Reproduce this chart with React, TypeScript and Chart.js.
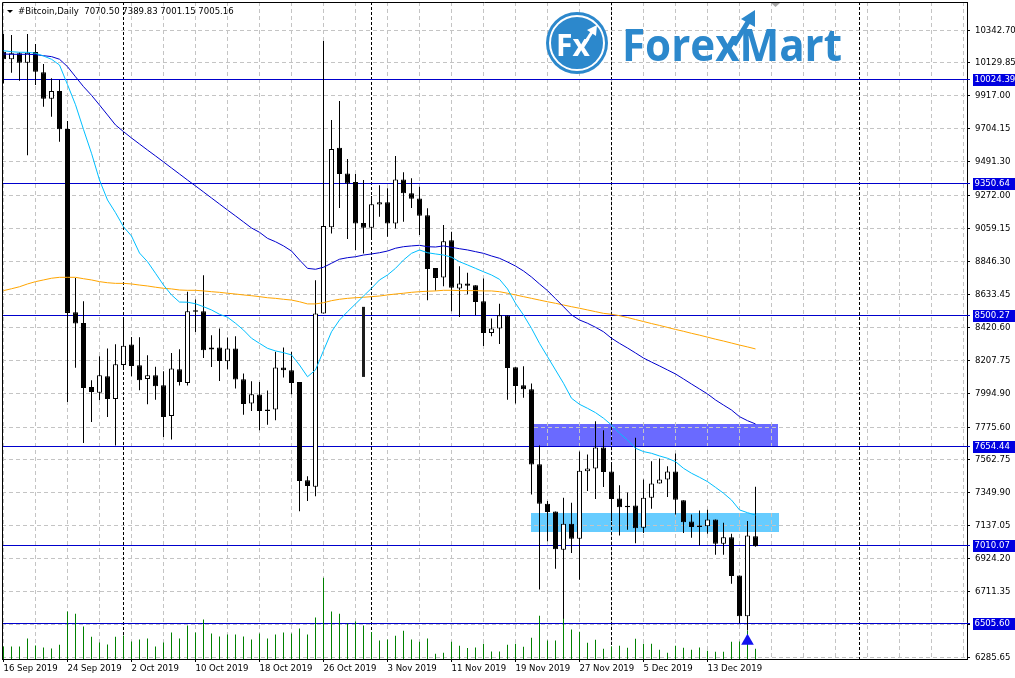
import React, { useEffect, useRef } from 'react';
import { Chart, registerables } from 'chart.js';

Chart.register(...registerables);

// ---------------- data ----------------
const dateLabels = ['16 Sep 2019', '24 Sep 2019', '2 Oct 2019', '10 Oct 2019', '18 Oct 2019', '26 Oct 2019', '3 Nov 2019', '11 Nov 2019', '19 Nov 2019', '27 Nov 2019', '5 Dec 2019', '13 Dec 2019'];
const priceTicks = [10342.7, 10129.85, 9917.0, 9704.15, 9491.3, 9272.0, 9059.15, 8846.3, 8633.45, 8420.6, 8207.75, 7994.9, 7775.6, 7562.75, 7349.9, 7137.05, 6924.2, 6711.35, 6498.5, 6285.65];
const levels = [10024.39, 9350.64, 8500.27, 7654.44, 7010.07, 6505.6];
const monthStarts = [15, 46, 76, 107];

const opens = [10203, 10154, 10193, 10132, 10201, 10070, 9899, 9949, 9703, 8518, 8449, 8035, 7998, 8104, 7957, 8177, 8309, 8175, 8087, 8111, 8046, 7847, 8150, 8061, 8531, 8525, 8277, 8290, 8201, 8284, 8085, 7928, 7986, 7890, 7889, 8161, 8143, 8067, 7431, 7390, 8510, 9067, 9582, 9416, 9360, 9096, 9064, 9215, 9230, 9092, 9377, 9287, 9254, 9146, 8805, 8743, 8984, 8672, 8704, 8693, 8590, 8384, 8413, 8497, 8162, 8046, 8020, 7535, 7280, 7230, 6983, 7151, 7054, 7490, 7507, 7643, 7489, 7313, 7267, 7269, 7125, 7319, 7410, 7436, 7489, 7302, 7165, 7139, 7135, 7178, 7021, 7064, 6816, 6553, 7070.5];
const highs = [10318, 10311, 10200, 10318, 10253, 10123, 10031, 10020, 9754, 8740, 8590, 8078, 8233, 8283, 8311, 8471, 8358, 8356, 8240, 8165, 8137, 8255, 8279, 8650, 8601, 8758, 8370, 8413, 8355, 8363, 8122, 8072, 8067, 8012, 8262, 8290, 8262, 8067, 7457, 8725, 10272, 9761, 9884, 9509, 9412, 9373, 9269, 9340, 9320, 9528, 9423, 9384, 9329, 9190, 8805, 9082, 9038, 8816, 8773, 8693, 8737, 8478, 8573, 8497, 8162, 8169, 8057, 7656, 7297, 7230, 7319, 7287, 7617, 7598, 7813, 7755, 7535, 7399, 7352, 7707, 7437, 7554, 7572, 7522, 7604, 7302, 7211, 7237, 7241, 7178, 7157, 7086, 6816, 7168, 7389.83];
const lows = [9998, 10067, 10015, 9534, 9987, 9847, 9782, 9620, 7938, 8160, 7672, 7808, 7949, 7841, 7657, 8150, 8104, 8013, 7923, 7953, 7711, 7696, 8045, 8045, 8391, 8223, 8164, 8074, 8150, 8025, 7856, 7879, 7755, 7790, 7819, 8096, 7988, 7232, 7297, 7328, 8510, 9028, 9193, 8991, 8920, 8898, 8991, 9135, 9006, 9060, 9103, 9193, 9017, 8596, 8659, 8687, 8525, 8488, 8635, 8499, 8300, 8363, 8313, 7953, 7928, 7966, 7339, 6726, 7038, 6860, 6536, 6961, 6788, 7362, 7310, 7388, 7168, 7075, 7112, 7025, 7090, 7248, 7410, 7323, 7211, 7090, 7060, 7010, 7086, 6950, 6950, 6762, 6508, 6460, 7001.15];
const closes = [10154, 10193, 10132, 10196, 10074, 9899, 9949, 9701, 8514, 8445, 8028, 8002, 8111, 7957, 8182, 8302, 8171, 8078, 8111, 8040, 7841, 8154, 8067, 8525, 8521, 8272, 8290, 8203, 8284, 8083, 7925, 7988, 7880, 7880, 8161, 8143, 8061, 7427, 7394, 8510, 9075, 9573, 9412, 9351, 9092, 9064, 9217, 9230, 9092, 9377, 9287, 9252, 9142, 8797, 8740, 8978, 8676, 8704, 8689, 8585, 8384, 8413, 8499, 8158, 8041, 8020, 7533, 7280, 7226, 6986, 7151, 7054, 7494, 7507, 7643, 7485, 7310, 7258, 7258, 7122, 7319, 7410, 7436, 7489, 7306, 7161, 7129, 7129, 7178, 7021, 7064, 6812, 6553, 7075, 7005.16];
const volumes = [12600, 12600, 12600, 20600, 13600, 11600, 10600, 14300, 47600, 45300, 32600, 22300, 16600, 14600, 22300, 23600, 17600, 19600, 20600, 12600, 16600, 26600, 20600, 33600, 26600, 39600, 25600, 22600, 24600, 24600, 22600, 19600, 25600, 20600, 24600, 26600, 25600, 30600, 24600, 41600, 81300, 47600, 45300, 35600, 37600, 33600, 27000, 18600, 19600, 23300, 28300, 19600, 17300, 20600, 5300, 6300, 17300, 13300, 11000, 11600, 15300, 7600, 7600, 14300, 15300, 12300, 21300, 43300, 18600, 18600, 42300, 29600, 27300, 16300, 19300, 10300, 12600, 13300, 11300, 20300, 15300, 15300, 9300, 6300, 13300, 11300, 9300, 11600, 8300, 7300, 7300, 17300, 17600, 28300, 10300];

const maFast = [10209, 10203, 10199, 10199, 10193, 10175, 10154, 10117, 9990, 9860, 9700, 9546, 9373, 9244, 9162, 9071, 9011, 8901, 8845, 8770, 8694, 8630, 8584, 8583, 8573, 8554, 8533, 8505, 8486, 8447, 8403, 8350, 8317, 8285, 8268, 8257, 8242, 8177, 8101, 8145, 8270, 8392, 8468, 8522, 8572, 8623, 8673, 8727, 8759, 8802, 8856, 8899, 8921, 8903, 8895, 8888, 8874, 8845, 8824, 8802, 8780, 8759, 8731, 8669, 8576, 8500, 8414, 8317, 8231, 8145, 8059, 7962, 7923, 7897, 7869, 7833, 7789, 7736, 7692, 7639, 7617, 7606, 7589, 7574, 7552, 7509, 7477, 7451, 7423, 7386, 7348, 7304, 7240, 7222, 7207];
const maMid = [10188, 10186, 10186, 10186, 10184, 10177, 10171, 10154, 10106, 10041, 9977, 9921, 9858, 9794, 9729, 9686, 9645, 9606, 9567, 9529, 9490, 9451, 9412, 9373, 9335, 9296, 9257, 9218, 9179, 9141, 9102, 9063, 9035, 8996, 8974, 8947, 8914, 8856, 8802, 8796, 8809, 8835, 8861, 8871, 8877, 8888, 8895, 8903, 8914, 8932, 8942, 8947, 8951, 8942, 8940, 8947, 8938, 8929, 8921, 8910, 8899, 8882, 8867, 8843, 8817, 8785, 8746, 8701, 8658, 8606, 8554, 8501, 8468, 8447, 8421, 8392, 8350, 8317, 8287, 8255, 8222, 8196, 8171, 8145, 8119, 8087, 8054, 8022, 7990, 7951, 7918, 7886, 7843, 7817, 7796];
const maSlow = [8658, 8670, 8683, 8701, 8716, 8727, 8738, 8744, 8744, 8744, 8735, 8727, 8716, 8709, 8705, 8705, 8701, 8694, 8688, 8680, 8673, 8669, 8662, 8660, 8660, 8656, 8651, 8647, 8641, 8636, 8630, 8625, 8619, 8612, 8608, 8602, 8597, 8586, 8572, 8572, 8580, 8593, 8602, 8608, 8612, 8615, 8619, 8623, 8630, 8636, 8641, 8647, 8651, 8654, 8656, 8660, 8660, 8658, 8658, 8658, 8656, 8656, 8651, 8641, 8630, 8619, 8608, 8597, 8586, 8576, 8565, 8554, 8544, 8533, 8522, 8511, 8505, 8496, 8484, 8471, 8458, 8445, 8433, 8420, 8407, 8395, 8382, 8370, 8357, 8344, 8332, 8319, 8306, 8294, 8281];

const zoneUpper = { from: 66.35, to: 96.8, top: 7795, bottom: 7654.44 };
const zoneLower = { from: 65.95, to: 96.95, top: 7219, bottom: 7097 };
const signalIndex = 93;
const signalPrice = 6392;
const markIndex = 45;
const markRange = [8100, 8553];
const titleText = '#Bitcoin,Daily  7070.50 7389.83 7001.15 7005.16';

// ---------------- drawing ----------------
const FONT = '"DejaVu Sans Condensed", "Liberation Sans", Arial, sans-serif';
const FSIZE = 9.5;

const overlayPlugin = {
  id: 'mtOverlay',
  beforeDraw(chart: any) {
    const { ctx, scales } = chart;
    const x = scales.x, y = scales.y;
    ctx.save();
    ctx.fillStyle = '#ffffff';
    ctx.fillRect(0, 0, chart.width, chart.height);
    const zones = [
      { z: zoneUpper, c: '#6A6AFF' },
      { z: zoneLower, c: '#66CCFF' },
    ];
    for (const { z, c } of zones) {
      const x1 = Math.round(x.getPixelForValue(z.from));
      const x2 = Math.round(x.getPixelForValue(z.to));
      const y1 = Math.round(y.getPixelForValue(z.top));
      const y2 = Math.round(y.getPixelForValue(z.bottom));
      ctx.fillStyle = c;
      ctx.fillRect(x1, y1, x2 - x1, y2 - y1);
    }
    ctx.restore();
  },
  beforeDatasetsDraw(chart: any) {
    const { ctx, chartArea: a, scales } = chart;
    const x = scales.x, y = scales.y;
    ctx.save();
    ctx.strokeStyle = '#000';
    ctx.lineWidth = 1;
    ctx.setLineDash([3, 2]);
    for (const m of monthStarts) {
      const px = Math.floor(x.getPixelForValue(m)) + 0.5;
      if (px > a.right) continue;
      ctx.beginPath();
      ctx.moveTo(px, a.top);
      ctx.lineTo(px, a.bottom);
      ctx.stroke();
    }
    ctx.setLineDash([]);
    ctx.strokeStyle = '#0000CC';
    for (const lv of levels) {
      const py = Math.round(y.getPixelForValue(lv)) + 0.5;
      ctx.beginPath();
      ctx.moveTo(a.left, py);
      ctx.lineTo(a.right + 3, py);
      ctx.stroke();
    }
    ctx.restore();
  },
  afterDraw(chart: any) {
    const { ctx, chartArea: a, scales } = chart;
    const y = scales.y;
    ctx.save();
    ctx.strokeStyle = '#000';
    ctx.lineWidth = 1;
    ctx.beginPath();
    ctx.moveTo(a.left + 0.5, a.bottom);
    ctx.lineTo(a.left + 0.5, a.top + 0.5);
    ctx.lineTo(a.right, a.top + 0.5);
    ctx.stroke();

    ctx.font = `${FSIZE}px ${FONT}`;
    ctx.textBaseline = 'middle';
    ctx.textAlign = 'left';
    for (const lv of levels) {
      const py = Math.round(y.getPixelForValue(lv));
      ctx.fillStyle = '#0000E0';
      ctx.fillRect(a.right + 6, py - 5, 48, 12);
      ctx.fillStyle = '#ffffff';
      ctx.fillText(lv.toFixed(2), a.right + 7.5, py + 1);
    }

    ctx.fillStyle = '#000';
    ctx.beginPath();
    ctx.moveTo(7, 10);
    ctx.lineTo(13, 10);
    ctx.lineTo(10, 13);
    ctx.closePath();
    ctx.fill();
    ctx.font = `${FSIZE}px ${FONT}`;
    ctx.textBaseline = 'alphabetic';
    ctx.fillText(titleText, 18, 14);

    ctx.fillStyle = '#A8A8A8';
    ctx.beginPath();
    ctx.moveTo(771, 3);
    ctx.lineTo(780, 3);
    ctx.lineTo(775.5, 7);
    ctx.closePath();
    ctx.fill();

    const blue = '#2C88CC';
    ctx.fillStyle = blue;
    ctx.beginPath();
    ctx.arc(577, 43, 31, 0, Math.PI * 2);
    ctx.fill();
    ctx.strokeStyle = '#ffffff';
    ctx.lineWidth = 2;
    ctx.beginPath();
    ctx.arc(577, 43, 27, 0, Math.PI * 2);
    ctx.stroke();
    ctx.fillStyle = '#ffffff';
    ctx.font = 'bold 30px "Open Sans", sans-serif';
    ctx.fillText('Fx', 556, 56);
    ctx.lineWidth = 3;
    ctx.beginPath();
    ctx.moveTo(583, 46);
    ctx.lineTo(592, 32);
    ctx.stroke();
    ctx.beginPath();
    ctx.moveTo(597, 25);
    ctx.lineTo(587, 30);
    ctx.lineTo(596, 36);
    ctx.closePath();
    ctx.fill();

    ctx.fillStyle = blue;
    ctx.strokeStyle = blue;
    ctx.font = 'bold 44px "Open Sans", sans-serif';
    const w = ctx.measureText('ForexMart').width;
    ctx.save();
    ctx.translate(622, 61);
    ctx.scale(220 / w, 1);
    ctx.fillText('ForexMart', 0, 0);
    ctx.restore();
    ctx.lineWidth = 5;
    ctx.beginPath();
    ctx.moveTo(734, 45);
    ctx.lineTo(748, 22);
    ctx.stroke();
    ctx.beginPath();
    ctx.moveTo(755, 10);
    ctx.lineTo(741, 19);
    ctx.lineTo(755, 27);
    ctx.closePath();
    ctx.fill();
    ctx.restore();
  },
};

export default function App() {
  const ref = useRef<HTMLCanvasElement | null>(null);

  useEffect(() => {
    if (!ref.current) return;
    const idx = opens.map((_, i) => i);
    const chart = new Chart(ref.current, {
      type: 'bar',
      data: {
        datasets: [
          {
            type: 'scatter',
            data: [{ x: signalIndex, y: signalPrice }],
            pointStyle: 'triangle',
            pointRadius: 7.3,
            backgroundColor: '#1414F0',
            borderWidth: 0,
            order: 0,
            yAxisID: 'y',
          } as any,
          {
            type: 'line',
            data: idx.map((i) => ({ x: i, y: maFast[i] })),
            borderColor: '#00BFFF',
            borderWidth: 1,
            pointRadius: 0,
            tension: 0,
            order: 1,
            yAxisID: 'y',
          },
          {
            type: 'line',
            data: idx.map((i) => ({ x: i, y: maMid[i] })),
            borderColor: '#0000CD',
            borderWidth: 1,
            pointRadius: 0,
            tension: 0,
            order: 2,
            yAxisID: 'y',
          },
          {
            type: 'line',
            data: idx.map((i) => ({ x: i, y: maSlow[i] })),
            borderColor: '#FFA500',
            borderWidth: 1,
            pointRadius: 0,
            tension: 0,
            order: 3,
            yAxisID: 'y',
          },
          {
            type: 'bar',
            data: [{ x: markIndex, y: markRange }],
            backgroundColor: '#1C1C1C',
            barThickness: 3,
            grouped: false,
            inflateAmount: 0,
            borderWidth: 0,
            order: 4,
            yAxisID: 'y',
          } as any,
          {
            type: 'bar',
            data: idx.map((i) => ({ x: i, y: [opens[i], closes[i]] })),
            backgroundColor: idx.map((i) => (closes[i] >= opens[i] ? '#ffffff' : '#000000')),
            borderColor: '#000000',
            borderWidth: 1,
            borderSkipped: false,
            barThickness: 5,
            grouped: false,
            inflateAmount: 0,
            order: 5,
            yAxisID: 'y',
          } as any,
          {
            type: 'bar',
            data: idx.map((i) => ({ x: i, y: [lows[i], highs[i]] })),
            backgroundColor: '#000000',
            borderWidth: 0,
            barThickness: 1,
            grouped: false,
            inflateAmount: 0,
            order: 6,
            yAxisID: 'y',
          } as any,
          {
            type: 'bar',
            data: idx.map((i) => ({ x: i, y: volumes[i] })),
            backgroundColor: '#008000',
            borderWidth: 0,
            barThickness: 1,
            grouped: false,
            inflateAmount: 0,
            order: 10,
            yAxisID: 'y2',
          } as any,
        ],
      },
      options: {
        responsive: false,
        animation: false,
        events: [],
        layout: { autoPadding: false, padding: { left: 2, top: 2, right: 0, bottom: 0 } },
        plugins: {
          legend: { display: false },
          tooltip: { enabled: false },
          title: { display: false },
        },
        scales: {
          x: {
            type: 'linear',
            position: 'bottom',
            min: -0.1875,
            max: 120.4375,
            offset: false,
            afterBuildTicks: (s: any) => {
              s.ticks = Array.from({ length: 31 }, (_, k) => ({ value: k * 4 }));
            },
            afterFit: (s: any) => {
              s.height = 19;
              s.paddingLeft = 0;
              s.paddingRight = 0;
              s.paddingTop = 0;
              s.paddingBottom = 0;
            },
            ticks: {
              autoSkip: false,
              maxRotation: 0,
              minRotation: 0,
              align: 'start',
              padding: 1,
              color: '#000',
              font: { family: FONT, size: FSIZE },
              callback: (v: any) => {
                const n = Math.round(Number(v));
                return n % 8 === 0 && n / 8 < dateLabels.length ? dateLabels[n / 8] : '';
              },
            },
            grid: {
              color: '#C4C4C4',
              lineWidth: 1,
              offset: false,
              drawTicks: true,
              tickLength: 3,
              tickColor: (c: any) => {
                const n = c.tick ? Math.round(c.tick.value) : -1;
                return n % 8 === 0 && n / 8 < dateLabels.length ? '#000' : 'rgba(0,0,0,0)';
              },
            },
            border: { display: true, color: '#000', dash: [4, 3] },
          },
          y: {
            type: 'linear',
            position: 'right',
            min: 6276.0,
            max: 10524.2,
            beginAtZero: false,
            afterBuildTicks: (s: any) => {
              s.ticks = priceTicks.map((v) => ({ value: v }));
            },
            afterFit: (s: any) => {
              s.width = 48;
              s.paddingLeft = 0;
              s.paddingRight = 0;
              s.paddingTop = 0;
              s.paddingBottom = 0;
            },
            ticks: {
              autoSkip: false,
              padding: 5,
              color: '#000',
              font: { family: FONT, size: FSIZE },
              callback: (v: any) => (Math.abs(Number(v) - 6498.5) < 0.01 ? '' : Number(v).toFixed(2)),
            },
            grid: {
              color: '#C4C4C4',
              lineWidth: 1,
              drawTicks: true,
              tickLength: 3,
              tickColor: '#000',
            },
            border: { display: true, color: '#000', dash: [4, 3] },
          },
          y2: {
            type: 'linear',
            display: false,
            min: 0,
            max: 657000,
          },
        },
      } as any,
      plugins: [overlayPlugin],
    });
    return () => chart.destroy();
  }, []);

  return (
    <div style={{ position: 'absolute', left: 0, top: 0, width: 1015, height: 678, background: '#fff' }}>
      <canvas ref={ref} width={1015} height={678} style={{ display: 'block' }} />
    </div>
  );
}
